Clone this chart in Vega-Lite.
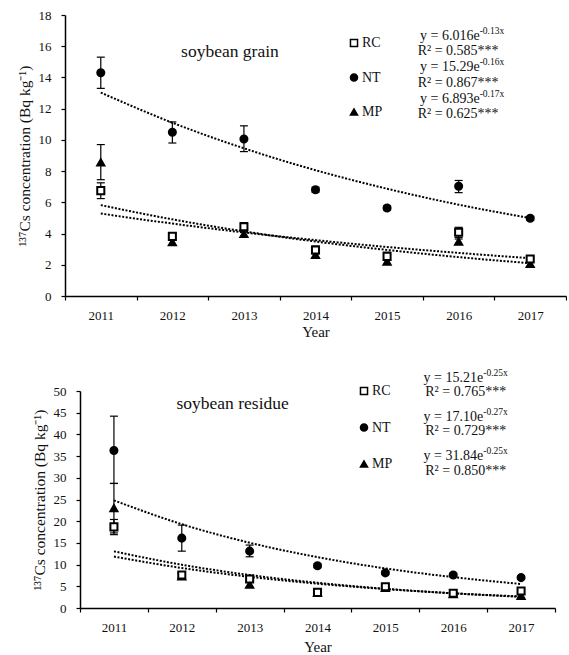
{
  "$schema": "https://vega.github.io/schema/vega-lite/v6.json",
  "padding": {"left": 17, "top": 9, "right": 0, "bottom": 0},
  "background": "white",
  "config": {
    "font": "Liberation Serif",
    "view": {"stroke": null},
    "axis": {"grid": false, "domainColor": "black", "tickColor": "black", "labelColor": "#111", "titleColor": "#111", "labelFont": "Liberation Serif", "titleFont": "Liberation Serif", "titleFontWeight": "normal", "labelFontSize": 13, "domainWidth": 1.5, "tickWidth": 1.2, "tickSize": 4, "labelOverlap": false},
    "text": {"font": "Liberation Serif"},
    "legend": {"labelFont": "Liberation Serif", "labelFontSize": 14, "labelColor": "#111", "symbolSize": 50, "labelOffset": 0, "padding": 0}
  },
  "datasets": {
    "grain": [
      {"year": "2011", "series": "MP", "value": 8.56, "lo": 7.45, "hi": 9.7},
      {"year": "2012", "series": "MP", "value": 3.44, "lo": 3.25, "hi": 3.65},
      {"year": "2013", "series": "MP", "value": 3.97, "lo": 3.8, "hi": 4.15},
      {"year": "2014", "series": "MP", "value": 2.63, "lo": 2.45, "hi": 2.8},
      {"year": "2015", "series": "MP", "value": 2.2, "lo": 2.05, "hi": 2.35},
      {"year": "2016", "series": "MP", "value": 3.48, "lo": 3.3, "hi": 3.65},
      {"year": "2017", "series": "MP", "value": 2.05, "lo": 1.9, "hi": 2.2},
      {"year": "2011", "series": "NT", "value": 14.3, "lo": 13.3, "hi": 15.3},
      {"year": "2012", "series": "NT", "value": 10.49, "lo": 9.8, "hi": 11.15},
      {"year": "2013", "series": "NT", "value": 10.06, "lo": 9.25, "hi": 10.9},
      {"year": "2014", "series": "NT", "value": 6.81, "lo": 6.65, "hi": 6.97},
      {"year": "2015", "series": "NT", "value": 5.64, "lo": 5.5, "hi": 5.78},
      {"year": "2016", "series": "NT", "value": 7.03, "lo": 6.62, "hi": 7.4},
      {"year": "2017", "series": "NT", "value": 4.98, "lo": 4.85, "hi": 5.1},
      {"year": "2011", "series": "RC", "value": 6.75, "lo": 6.24, "hi": 7.25},
      {"year": "2012", "series": "RC", "value": 3.82, "lo": 3.6, "hi": 4.05},
      {"year": "2013", "series": "RC", "value": 4.44, "lo": 4.2, "hi": 4.7},
      {"year": "2014", "series": "RC", "value": 2.95, "lo": 2.7, "hi": 3.2},
      {"year": "2015", "series": "RC", "value": 2.54, "lo": 2.3, "hi": 2.8},
      {"year": "2016", "series": "RC", "value": 4.08, "lo": 3.75, "hi": 4.4},
      {"year": "2017", "series": "RC", "value": 2.37, "lo": 2.2, "hi": 2.55}
    ],
    "grainTrend": [
      {"year": "2011", "series": "RC", "fit": 5.28}, {"year": "2012", "series": "RC", "fit": 4.64}, {"year": "2013", "series": "RC", "fit": 4.07}, {"year": "2014", "series": "RC", "fit": 3.58}, {"year": "2015", "series": "RC", "fit": 3.14}, {"year": "2016", "series": "RC", "fit": 2.76}, {"year": "2017", "series": "RC", "fit": 2.42},
      {"year": "2011", "series": "NT", "fit": 13.03}, {"year": "2012", "series": "NT", "fit": 11.1}, {"year": "2013", "series": "NT", "fit": 9.46}, {"year": "2014", "series": "NT", "fit": 8.06}, {"year": "2015", "series": "NT", "fit": 6.87}, {"year": "2016", "series": "NT", "fit": 5.85}, {"year": "2017", "series": "NT", "fit": 4.99},
      {"year": "2011", "series": "MP", "fit": 5.82}, {"year": "2012", "series": "MP", "fit": 4.91}, {"year": "2013", "series": "MP", "fit": 4.14}, {"year": "2014", "series": "MP", "fit": 3.49}, {"year": "2015", "series": "MP", "fit": 2.95}, {"year": "2016", "series": "MP", "fit": 2.49}, {"year": "2017", "series": "MP", "fit": 2.1}
    ],
    "grainEq": [
      {"year": "2016", "value": 16.68, "base": "y = 6.016e", "sup": "-0.13x"},
      {"year": "2016", "value": 14.64, "base": "y = 15.29e", "sup": "-0.16x"},
      {"year": "2016", "value": 12.62, "base": "y = 6.893e", "sup": "-0.17x"}
    ],
    "grainR2": [
      {"year": "2016", "value": 15.71, "label": "R² = 0.585***"},
      {"year": "2016", "value": 13.65, "label": "R² = 0.867***"},
      {"year": "2016", "value": 11.66, "label": "R² = 0.625***"}
    ],
    "grainTitle": [{"year": "2013", "value": 15.63, "label": "soybean grain"}],
    "residue": [
      {"year": "2011", "series": "MP", "value": 23.0, "lo": 17.3, "hi": 28.7},
      {"year": "2012", "series": "MP", "value": 7.3, "lo": 6.6, "hi": 8.0},
      {"year": "2013", "series": "MP", "value": 5.4, "lo": 4.8, "hi": 6.0},
      {"year": "2014", "series": "MP", "value": 3.5, "lo": 3.1, "hi": 3.9},
      {"year": "2015", "series": "MP", "value": 4.6, "lo": 4.2, "hi": 5.0},
      {"year": "2016", "series": "MP", "value": 3.2, "lo": 2.8, "hi": 3.6},
      {"year": "2017", "series": "MP", "value": 2.8, "lo": 2.4, "hi": 3.2},
      {"year": "2011", "series": "NT", "value": 36.3, "lo": 28.7, "hi": 44.2},
      {"year": "2012", "series": "NT", "value": 16.1, "lo": 13.1, "hi": 19.1},
      {"year": "2013", "series": "NT", "value": 13.1, "lo": 11.8, "hi": 14.5},
      {"year": "2014", "series": "NT", "value": 9.75, "lo": 9.3, "hi": 10.2},
      {"year": "2015", "series": "NT", "value": 8.1, "lo": 7.7, "hi": 8.5},
      {"year": "2016", "series": "NT", "value": 7.6, "lo": 7.2, "hi": 8.0},
      {"year": "2017", "series": "NT", "value": 7.0, "lo": 6.6, "hi": 7.4},
      {"year": "2011", "series": "RC", "value": 18.7, "lo": 16.9, "hi": 20.4},
      {"year": "2012", "series": "RC", "value": 7.6, "lo": 6.9, "hi": 8.3},
      {"year": "2013", "series": "RC", "value": 6.7, "lo": 6.0, "hi": 7.4},
      {"year": "2014", "series": "RC", "value": 3.6, "lo": 3.1, "hi": 4.1},
      {"year": "2015", "series": "RC", "value": 4.9, "lo": 4.4, "hi": 5.4},
      {"year": "2016", "series": "RC", "value": 3.4, "lo": 3.0, "hi": 3.8},
      {"year": "2017", "series": "RC", "value": 3.9, "lo": 3.4, "hi": 4.4}
    ],
    "residueTrend": [
      {"year": "2011", "series": "RC", "fit": 11.85}, {"year": "2012", "series": "RC", "fit": 9.22}, {"year": "2013", "series": "RC", "fit": 7.18}, {"year": "2014", "series": "RC", "fit": 5.6}, {"year": "2015", "series": "RC", "fit": 4.36}, {"year": "2016", "series": "RC", "fit": 3.39}, {"year": "2017", "series": "RC", "fit": 2.64},
      {"year": "2011", "series": "NT", "fit": 24.8}, {"year": "2012", "series": "NT", "fit": 19.31}, {"year": "2013", "series": "NT", "fit": 15.04}, {"year": "2014", "series": "NT", "fit": 11.72}, {"year": "2015", "series": "NT", "fit": 9.12}, {"year": "2016", "series": "NT", "fit": 7.11}, {"year": "2017", "series": "NT", "fit": 5.53},
      {"year": "2011", "series": "MP", "fit": 13.05}, {"year": "2012", "series": "MP", "fit": 9.97}, {"year": "2013", "series": "MP", "fit": 7.61}, {"year": "2014", "series": "MP", "fit": 5.81}, {"year": "2015", "series": "MP", "fit": 4.43}, {"year": "2016", "series": "MP", "fit": 3.38}, {"year": "2017", "series": "MP", "fit": 2.58}
    ],
    "residueEq": [
      {"year": "2016", "value": 53.0, "base": "y = 15.21e", "sup": "-0.25x"},
      {"year": "2016", "value": 44.0, "base": "y = 17.10e", "sup": "-0.27x"},
      {"year": "2016", "value": 35.0, "base": "y = 31.84e", "sup": "-0.25x"}
    ],
    "residueR2": [
      {"year": "2016", "value": 49.7, "label": "R² = 0.765***"},
      {"year": "2016", "value": 40.7, "label": "R² = 0.729***"},
      {"year": "2016", "value": 31.6, "label": "R² = 0.850***"}
    ],
    "residueTitle": [{"year": "2013", "value": 47.0, "label": "soybean residue"}]
  },
  "spacing": 28,
  "resolve": {
    "scale": {"shape": "independent", "fill": "independent"},
    "legend": {"shape": "independent", "fill": "independent"}
  },
  "vconcat": [
    {
      "width": 501,
      "height": 281,
      "encoding": {
        "x": {
          "field": "year", "type": "ordinal",
          "scale": {"type": "band", "paddingInner": 0, "paddingOuter": 0, "domain": ["2011", "2012", "2013", "2014", "2015", "2016", "2017"]},
          "axis": {"title": "Year", "labelAngle": 0, "tickBand": "extent", "labelPadding": 9, "titlePadding": 2, "titleFontSize": 15, "labelFontSize": 13, "labelOverlap": false}
        },
        "y": {"type": "quantitative", "scale": {"domain": [0, 18]}, "axis": {"title": "¹³⁷Cs concentration  (Bq kg⁻¹)", "values": [0, 2, 4, 6, 8, 10, 12, 14, 16, 18], "labelOverlap": false, "labelPadding": 10, "titlePadding": 6, "titleFontSize": 15.5}}
      },
      "layer": [
        {
          "data": {"name": "grainTrend"},
          "mark": {"type": "line", "color": "black", "strokeWidth": 2, "strokeDash": [2, 1.6], "interpolate": "monotone"},
          "encoding": {
            "y": {"field": "fit", "type": "quantitative"},
            "detail": {"field": "series"}
          }
        },
        {
          "data": {"name": "grain"},
          "mark": {"type": "rule", "color": "black", "strokeWidth": 1.2},
          "encoding": {"y": {"field": "lo", "type": "quantitative"}, "y2": {"field": "hi"}}
        },
        {
          "data": {"name": "grain"},
          "mark": {"type": "tick", "color": "black", "thickness": 1.2, "size": 8, "opacity": 1},
          "encoding": {"y": {"field": "lo", "type": "quantitative"}}
        },
        {
          "data": {"name": "grain"},
          "mark": {"type": "tick", "color": "black", "thickness": 1.2, "size": 8, "opacity": 1},
          "encoding": {"y": {"field": "hi", "type": "quantitative"}}
        },
        {
          "data": {"name": "grain"},
          "mark": {"type": "point", "stroke": "black", "strokeWidth": 2, "size": 50, "opacity": 1, "fillOpacity": 1},
          "encoding": {
            "y": {"field": "value", "type": "quantitative"},
            "shape": {"field": "series", "type": "nominal", "scale": {"domain": ["RC", "NT", "MP"], "range": ["square", "circle", "triangle-up"]}, "legend": {"title": null, "orient": "none", "legendX": 282, "legendY": 21, "rowPadding": 20.5, "labelOffset": 1, "encode": {"symbols": {"update": {"stroke": {"value": "black"}, "strokeWidth": {"value": 2}}}}}},
            "fill": {"field": "series", "type": "nominal", "scale": {"domain": ["RC", "NT", "MP"], "range": ["white", "black", "black"]}, "legend": {"title": null, "orient": "none", "legendX": 282, "legendY": 21, "rowPadding": 20.5, "labelOffset": 1, "encode": {"symbols": {"update": {"stroke": {"value": "black"}, "strokeWidth": {"value": 2}}}}}}
          }
        },
        {
          "data": {"name": "grainTitle"},
          "mark": {"type": "text", "font": "Liberation Serif", "fontSize": 17.5, "color": "#111", "dx": -14, "align": "center", "baseline": "middle"},
          "encoding": {"y": {"field": "value", "type": "quantitative"}, "text": {"field": "label"}}
        },
        {
          "data": {"name": "grainEq"},
          "mark": {"type": "text", "font": "Liberation Serif", "fontSize": 14, "color": "#111", "dx": 21, "align": "right", "baseline": "middle"},
          "encoding": {"y": {"field": "value", "type": "quantitative"}, "text": {"field": "base"}}
        },
        {
          "data": {"name": "grainEq"},
          "mark": {"type": "text", "font": "Liberation Serif", "fontSize": 9.5, "color": "#111", "dx": 21, "dy": -5, "align": "left", "baseline": "middle"},
          "encoding": {"y": {"field": "value", "type": "quantitative"}, "text": {"field": "sup"}}
        },
        {
          "data": {"name": "grainR2"},
          "mark": {"type": "text", "font": "Liberation Serif", "fontSize": 14, "color": "#111", "dx": -41, "align": "left", "baseline": "middle"},
          "encoding": {"y": {"field": "value", "type": "quantitative"}, "text": {"field": "label"}}
        }
      ]
    },
    {
      "width": 490,
      "height": 217,
      "encoding": {
        "x": {
          "field": "year", "type": "ordinal",
          "scale": {"type": "band", "paddingInner": 0, "paddingOuter": 0, "range": [15, 490], "domain": ["2011", "2012", "2013", "2014", "2015", "2016", "2017"]},
          "axis": {"title": "Year", "labelAngle": 0, "tickBand": "extent", "labelPadding": 9, "titlePadding": 5, "titleFontSize": 15, "labelFontSize": 13, "labelOverlap": false}
        },
        "y": {"type": "quantitative", "scale": {"domain": [0, 50]}, "axis": {"title": "¹³⁷Cs concentration (Bq kg⁻¹)", "values": [0, 5, 10, 15, 20, 25, 30, 35, 40, 45, 50], "labelOverlap": false, "offset": -15, "labelPadding": 10, "titlePadding": 6, "titleFontSize": 15.5}}
      },
      "layer": [
        {
          "data": {"name": "residueTrend"},
          "mark": {"type": "line", "color": "black", "strokeWidth": 2, "strokeDash": [2, 1.6], "interpolate": "monotone"},
          "encoding": {
            "y": {"field": "fit", "type": "quantitative"},
            "detail": {"field": "series"}
          }
        },
        {
          "data": {"name": "residue"},
          "mark": {"type": "rule", "color": "black", "strokeWidth": 1.2},
          "encoding": {"y": {"field": "lo", "type": "quantitative"}, "y2": {"field": "hi"}}
        },
        {
          "data": {"name": "residue"},
          "mark": {"type": "tick", "color": "black", "thickness": 1.2, "size": 8, "opacity": 1},
          "encoding": {"y": {"field": "lo", "type": "quantitative"}}
        },
        {
          "data": {"name": "residue"},
          "mark": {"type": "tick", "color": "black", "thickness": 1.2, "size": 8, "opacity": 1},
          "encoding": {"y": {"field": "hi", "type": "quantitative"}}
        },
        {
          "data": {"name": "residue"},
          "mark": {"type": "point", "stroke": "black", "strokeWidth": 2, "size": 50, "opacity": 1, "fillOpacity": 1},
          "encoding": {
            "y": {"field": "value", "type": "quantitative"},
            "shape": {"field": "series", "type": "nominal", "scale": {"domain": ["RC", "NT", "MP"], "range": ["square", "circle", "triangle-up"]}, "legend": {"title": null, "orient": "none", "legendX": 292, "legendY": -7, "rowPadding": 22.5, "labelOffset": 1, "encode": {"symbols": {"update": {"stroke": {"value": "black"}, "strokeWidth": {"value": 2}}}}}},
            "fill": {"field": "series", "type": "nominal", "scale": {"domain": ["RC", "NT", "MP"], "range": ["white", "black", "black"]}, "legend": {"title": null, "orient": "none", "legendX": 292, "legendY": -7, "rowPadding": 22.5, "labelOffset": 1, "encode": {"symbols": {"update": {"stroke": {"value": "black"}, "strokeWidth": {"value": 2}}}}}}
          }
        },
        {
          "data": {"name": "residueTitle"},
          "mark": {"type": "text", "font": "Liberation Serif", "fontSize": 17.5, "color": "#111", "dx": -17, "align": "center", "baseline": "middle"},
          "encoding": {"y": {"field": "value", "type": "quantitative"}, "text": {"field": "label"}}
        },
        {
          "data": {"name": "residueEq"},
          "mark": {"type": "text", "font": "Liberation Serif", "fontSize": 14, "color": "#111", "dx": 30, "align": "right", "baseline": "middle"},
          "encoding": {"y": {"field": "value", "type": "quantitative"}, "text": {"field": "base"}}
        },
        {
          "data": {"name": "residueEq"},
          "mark": {"type": "text", "font": "Liberation Serif", "fontSize": 9.5, "color": "#111", "dx": 30, "dy": -5, "align": "left", "baseline": "middle"},
          "encoding": {"y": {"field": "value", "type": "quantitative"}, "text": {"field": "sup"}}
        },
        {
          "data": {"name": "residueR2"},
          "mark": {"type": "text", "font": "Liberation Serif", "fontSize": 14, "color": "#111", "dx": -28, "align": "left", "baseline": "middle"},
          "encoding": {"y": {"field": "value", "type": "quantitative"}, "text": {"field": "label"}}
        }
      ]
    }
  ]
}
